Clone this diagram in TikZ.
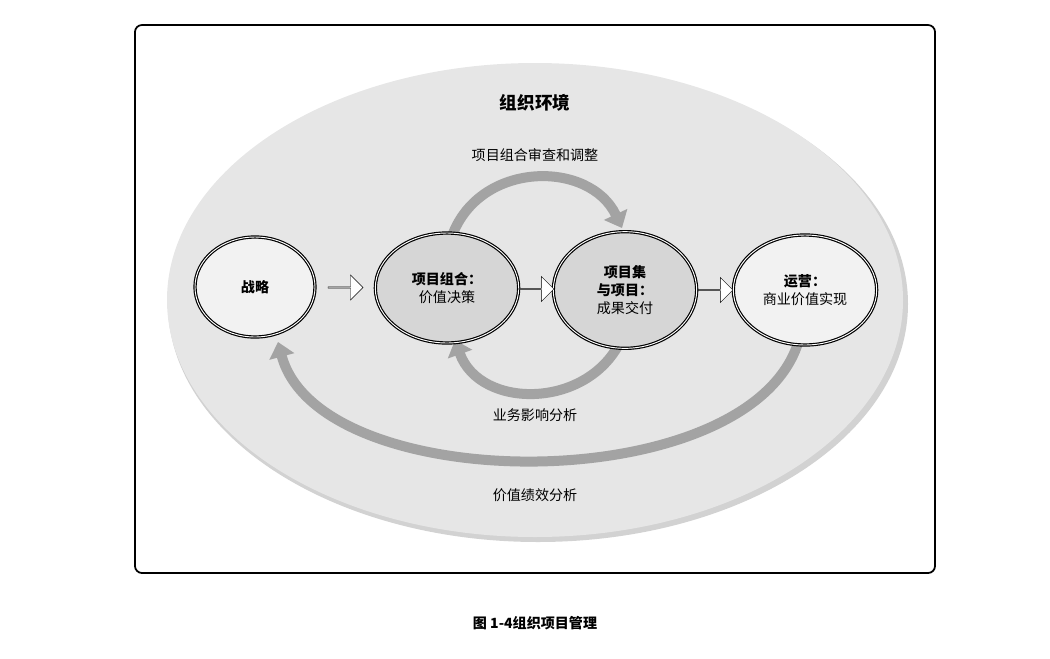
\documentclass[tikz,border=0pt]{standalone}
\usepackage{fontspec}
\setmainfont{Noto Sans CJK SC}
\usetikzlibrary{shapes.arrows,shapes.geometric,arrows.meta,calc}
\definecolor{envgray}{HTML}{E6E6E6}
\definecolor{arcgray}{HTML}{A3A3A3}
\definecolor{midgray}{HTML}{D6D6D6}
\definecolor{lightgray}{HTML}{F2F2F2}
\begin{document}
\begin{tikzpicture}[x=0.03cm,y=-0.03cm,
    stage/.style={ellipse,draw=black,line width=1pt,double=white,double distance=0.8pt,align=center,font=\fontsize{12}{15}\selectfont},
    pass/.style={single arrow,draw=black,fill=white,minimum height=1.05cm,minimum width=0.75cm,single arrow head extend=0.12cm,inner sep=0pt},
    loop/.style={arcgray,line width=0.3cm,-{Triangle[length=0.45cm,width=0.75cm]}},
    lbl/.style={font=\fontsize{12}{15}\selectfont}]
\useasboundingbox (0,0) rectangle (1050,658);
% frame and environment
\node[draw=black,line width=1.5pt,rounded corners=6pt,minimum width=24cm,minimum height=16.44cm] (frame) at (535,299) {};
\fill[gray!35] (538,304) ellipse [x radius=370,y radius=238];
\fill[envgray] (535,300) ellipse [x radius=368,y radius=237];
% loops
\draw[loop] (452,236) .. controls (480,160) and (590,160) .. (622,228);
\draw[loop] (622,338) .. controls (590,410) and (480,410) .. (455,340);
\draw[loop] (800,336) .. controls (760,500) and (320,500) .. (278,342);
% stages
\node[stage,fill=lightgray,minimum width=3.6cm,minimum height=3cm] (strat) at (255,287) {\textbf{战略}};
\node[stage,fill=midgray,minimum width=4.3cm,minimum height=3.3cm] (port) at (447,288) {\textbf{项目组合：}\\价值决策};
\node[stage,fill=midgray,minimum width=4.3cm,minimum height=3.5cm] (prog) at (625,290) {\textbf{项目集}\\\textbf{与项目：}\\成果交付};
\node[stage,fill=lightgray,minimum width=4.3cm,minimum height=3.3cm] (ops) at (805,290) {\textbf{运营：}\\商业价值实现};
% hollow arrows
\node[pass] (a1) at ($(strat.east)!0.5!(port.west)$) {};
\node[pass] (a2) at ($(port.east)!0.5!(prog.west)$) {};
\node[pass] (a3) at ($(prog.east)!0.5!(ops.west)$) {};
% labels
\node[font=\fontsize{15}{18}\selectfont\bfseries] (env) at (535,103) {组织环境};
\node[lbl] (review) at (535,155) {项目组合审查和调整};
\node[lbl] (impact) at (535,415) {业务影响分析};
\node[lbl] (perf) at (535,495) {价值绩效分析};
\node[font=\fontsize{12}{15}\selectfont\bfseries] (cap) at (535,623) {图 1-4组织项目管理};
\end{tikzpicture}
\end{document}
